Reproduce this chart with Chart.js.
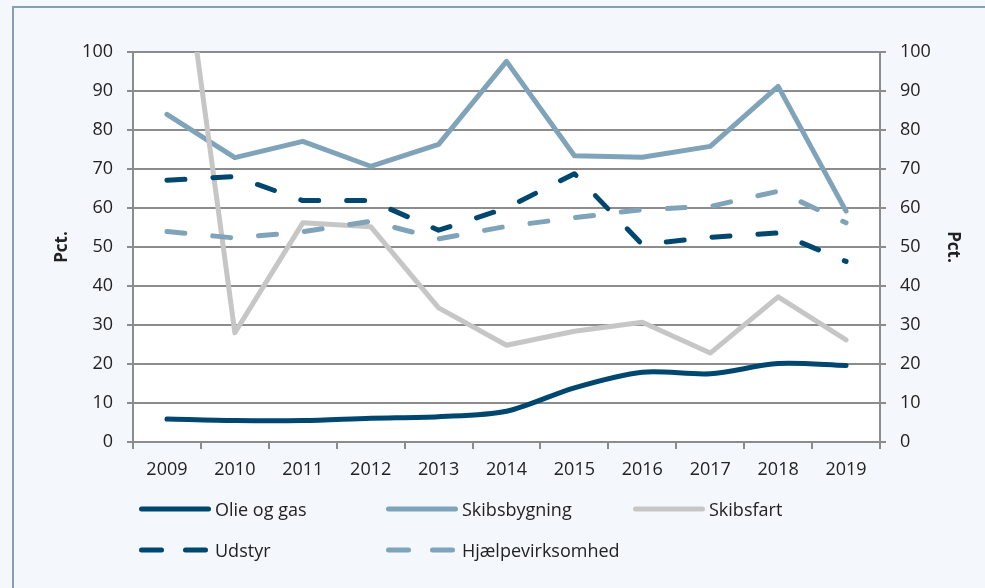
<!DOCTYPE html>
<html>
<head>
<meta charset="utf-8">
<script src="https://cdn.jsdelivr.net/npm/chart.js@4.4.1/dist/chart.umd.min.js"></script>
<style>
  body { margin: 0; background: #f4f8fc; }
  #wrap { position: relative; width: 985px; height: 588px; overflow: hidden; background: #f4f8fc; }
  #frame { position: absolute; left: 12px; top: 6px; width: 1000px; height: 600px;
           border-left: 2px solid #7fa0b5; border-top: 2px solid #7fa0b5; }
  #chart { position: absolute; left: 0; top: 0; }
  .leg { position: absolute; height: 24px; display: flex; align-items: center;
         font-family: 'Open Sans'; font-size: 18px; color: #222; white-space: nowrap; }
  .leg svg { margin-right: 4px; }
</style>
</head>
<body>
<div id="wrap">
  <div id="frame"></div>
  <canvas id="chart" width="985" height="588"></canvas>
  <div id="legend"></div>
</div>
<script>
// data
const years = ['2009', '2010', '2011', '2012', '2013', '2014', '2015', '2016', '2017', '2018', '2019'];
const olieOgGas = [5.9, 5.5, 5.5, 6.1, 6.5, 7.9, 13.9, 17.9, 17.5, 20.1, 19.6];
const skibsbygning = [84.0, 72.9, 77.1, 70.7, 76.3, 97.6, 73.4, 73.0, 75.8, 91.2, 59.2];
const skibsfart = [157, 28.0, 56.2, 55.2, 34.4, 24.8, 28.4, 30.7, 22.8, 37.2, 26.2];
const udstyr = [67.1, 68.1, 61.9, 61.9, 54.3, 60.0, 68.8, 50.6, 52.5, 53.6, 46.3];
const hjaelpevirksomhed = [54.0, 52.3, 53.9, 56.6, 52.1, 55.3, 57.5, 59.6, 60.4, 64.3, 56.2];
const yTicks = [0, 10, 20, 30, 40, 50, 60, 70, 80, 90, 100];

const dark = '#00476f';
const blue = '#7fa3b9';
const grey = '#c6c6c6';
const gridGrey = '#8c8c8c';

const series = [
    { label: 'Olie og gas', data: olieOgGas, color: dark, dash: [], tension: 0.3 },
    { label: 'Skibsbygning', data: skibsbygning, color: blue, dash: [], tension: 0 },
    { label: 'Skibsfart', data: skibsfart, color: grey, dash: [], tension: 0 },
    { label: 'Udstyr', data: udstyr, color: dark, dash: [18, 28], tension: 0 },
    { label: 'Hjælpevirksomhed', data: hjaelpevirksomhed, color: blue, dash: [18, 28], tension: 0 }
];

Chart.defaults.font.family = "'Open Sans'";
Chart.defaults.font.size = 18;
Chart.defaults.color = '#222';

// white plot area
const plotBackground = {
    id: 'plotBackground',
    beforeDraw(chart) {
        const a = chart.chartArea;
        chart.ctx.save();
        chart.ctx.fillStyle = '#ffffff';
        chart.ctx.fillRect(a.left, a.top, a.right - a.left, a.bottom - a.top);
        chart.ctx.restore();
    }
};

const setTicks = (scale) => { scale.ticks = yTicks.map(v => ({ value: v })); };

const yAxis = (position, width) => ({
    type: 'linear',
    position: position,
    min: 0,
    max: 100,
    afterBuildTicks: setTicks,
    afterFit: (s) => { s.width = width; },
    grid: {
        color: gridGrey,
        lineWidth: 2,
        tickLength: 6,
        drawOnChartArea: position === 'left'
    },
    border: { color: gridGrey, width: 2 },
    ticks: { padding: 14 },
    title: {
        display: true,
        text: 'Pct.',
        font: { size: 17, weight: 'bold' }
    }
});

const ctx = document.getElementById('chart').getContext('2d');
new Chart(ctx, {
    type: 'line',
    data: {
        labels: years,
        datasets: series.map((s, i) => ({
            label: s.label,
            data: s.data,
            borderColor: s.color,
            backgroundColor: s.color,
            borderWidth: 5,
            borderDash: s.dash,
            borderCapStyle: 'round',
            borderJoinStyle: 'round',
            pointRadius: 0,
            tension: s.tension,
            fill: false,
            order: series.length - i,
            clip: { left: 5, right: 5, top: 0, bottom: 5 }
        }))
    },
    options: {
        responsive: false,
        animation: false,
        layout: { padding: { left: 48, right: 18, top: 52, bottom: 98 } },
        plugins: {
            legend: { display: false },
            tooltip: { enabled: false }
        },
        scales: {
            x: {
                offset: true,
                afterFit: (s) => { s.height = 48; },
                grid: {
                    offset: true,
                    drawOnChartArea: false,
                    color: gridGrey,
                    lineWidth: 2,
                    tickLength: 7
                },
                border: { color: gridGrey, width: 2 },
                ticks: { padding: 10, maxRotation: 0 }
            },
            y: yAxis('left', 85),
            y2: yAxis('right', 87)
        }
    },
    plugins: [plotBackground]
});

// legend, laid out like the original in two rows
const legendPos = [
    { left: 139, top: 497 },
    { left: 386, top: 497 },
    { left: 633, top: 497 },
    { left: 139, top: 538 },
    { left: 386, top: 538 }
];
const legend = document.getElementById('legend');
series.forEach((s, i) => {
    const item = document.createElement('div');
    item.className = 'leg';
    item.style.left = legendPos[i].left + 'px';
    item.style.top = legendPos[i].top + 'px';
    const dash = s.dash.length ? 'stroke-dasharray="20 24"' : '';
    item.innerHTML = '<svg width="72" height="8"><line x1="2.5" y1="4" x2="69.5" y2="4" stroke="' + s.color +
        '" stroke-width="5" stroke-linecap="round" ' + dash + '/></svg><span>' + s.label + '</span>';
    legend.appendChild(item);
});
</script>
</body>
</html>
